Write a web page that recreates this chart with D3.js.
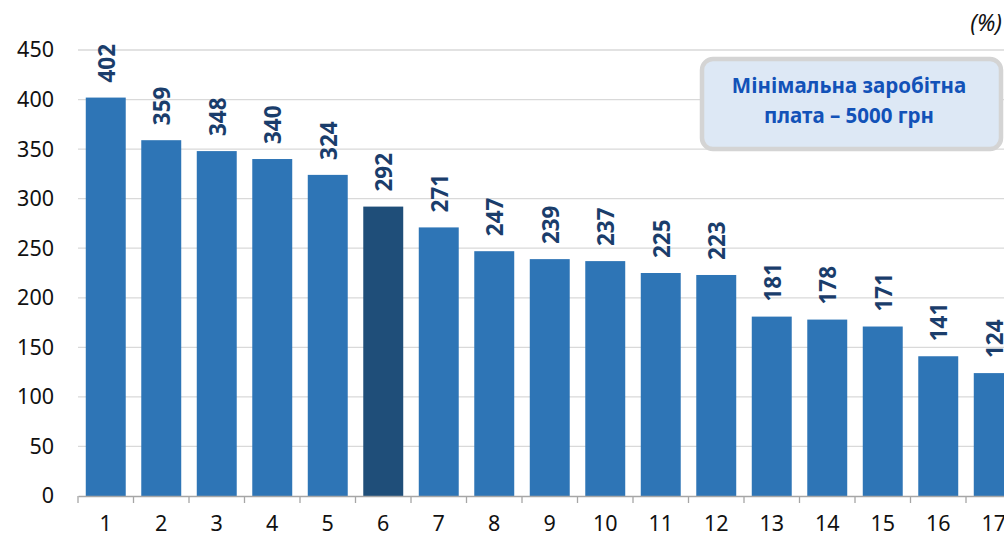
<!DOCTYPE html>
<html>
<head>
<meta charset="utf-8">
<script src="https://cdn.jsdelivr.net/npm/d3@7"></script>
<style>
  body { margin: 0; background: #fff; overflow: hidden; }
  svg { display: block; font-family: "Noto Sans", sans-serif; }
</style>
</head>
<body>
<div id="chart"></div>
<script>
const width = 1004;
const height = 538;

// data
const categories = ["1", "2", "3", "4", "5", "6", "7", "8", "9", "10", "11", "12", "13", "14", "15", "16", "17"];
const values = [402, 359, 348, 340, 324, 292, 271, 247, 239, 237, 225, 223, 181, 178, 171, 141, 124];
const highlighted = ["6"];
const yTicks = [0, 50, 100, 150, 200, 250, 300, 350, 400, 450];
const unitLabel = "(%)";
const noteLines = ["Мінімальна заробітна", "плата – 5000 грн"];

const plotLeft = 78;
const step = 55.5;
const plotTop = 50;
const plotBottom = 496;

const svg = d3.select("#chart")
    .append("svg")
    .attr("width", width)
    .attr("height", height);

const x = d3.scaleBand()
    .domain(categories)
    .range([plotLeft, plotLeft + step * categories.length])
    .paddingInner(0.28)
    .paddingOuter(0.14);

const y = d3.scaleLinear()
    .domain([0, 450])
    .range([plotBottom, plotTop]);

// gridlines
svg.append("g")
    .selectAll("line")
    .data(yTicks.filter(d => d > 0))
    .join("line")
    .attr("x1", plotLeft)
    .attr("x2", width)
    .attr("y1", d => y(d))
    .attr("y2", d => y(d))
    .style("stroke", "#d9d9d9")
    .style("stroke-width", 1.3);

// y axis labels
const yAxis = svg.append("g")
    .attr("transform", `translate(${plotLeft},0)`)
    .call(d3.axisLeft(y).tickValues(yTicks).tickSize(0).tickPadding(24));
yAxis.select(".domain").remove();
yAxis.selectAll("text")
    .style("font-family", "Noto Sans, sans-serif")
    .style("font-size", "21.5px")
    .style("fill", "#111");

// bars
svg.append("g")
    .selectAll("rect")
    .data(values)
    .join("rect")
    .attr("x", (d, i) => x(categories[i]))
    .attr("y", d => y(d))
    .attr("width", x.bandwidth())
    .attr("height", d => y(0) - y(d))
    .style("fill", (d, i) => highlighted.includes(categories[i]) ? "#1f4e79" : "#2e75b6");

// x axis
const xAxis = svg.append("g")
    .attr("transform", `translate(0,${plotBottom})`)
    .call(d3.axisBottom(x).tickSize(0).tickPadding(20));
xAxis.select(".domain").style("stroke", "#a6a6a6").style("stroke-width", 1.3);
xAxis.selectAll("text")
    .style("font-family", "Noto Sans, sans-serif")
    .style("font-size", "21.5px")
    .style("fill", "#111");

// tick marks between categories
svg.append("g")
    .selectAll("line")
    .data(d3.range(categories.length + 1))
    .join("line")
    .attr("x1", i => plotLeft + i * step)
    .attr("x2", i => plotLeft + i * step)
    .attr("y1", plotBottom)
    .attr("y2", plotBottom + 7)
    .style("stroke", "#a6a6a6")
    .style("stroke-width", 1.3);

// value labels
svg.append("g")
    .selectAll("text")
    .data(values)
    .join("text")
    .attr("transform", (d, i) => `translate(${x(categories[i]) + x.bandwidth() / 2 + 1},${y(d) - 15}) rotate(-90)`)
    .attr("dy", "0.36em")
    .style("font-size", "22.5px")
    .style("font-weight", "bold")
    .style("fill", "#1a3d6b")
    .text(d => d);

// unit label
svg.append("text")
    .attr("x", 1002)
    .attr("y", 31)
    .attr("text-anchor", "end")
    .style("font-size", "23px")
    .style("font-style", "italic")
    .style("fill", "#111")
    .text(unitLabel);

// note box
const note = svg.append("g");
note.append("rect")
    .attr("x", 702)
    .attr("y", 59)
    .attr("width", 299)
    .attr("height", 90)
    .attr("rx", 11)
    .style("fill", "#dde8f5")
    .style("stroke", "#d4d4d4")
    .style("stroke-width", 4.5);
note.selectAll("text")
    .data(noteLines)
    .join("text")
    .attr("x", 849)
    .attr("y", (d, i) => 93 + i * 30)
    .attr("text-anchor", "middle")
    .style("font-size", "20.5px")
    .style("font-weight", "bold")
    .style("fill", "#1252b8")
    .text(d => d);
</script>
</body>
</html>
